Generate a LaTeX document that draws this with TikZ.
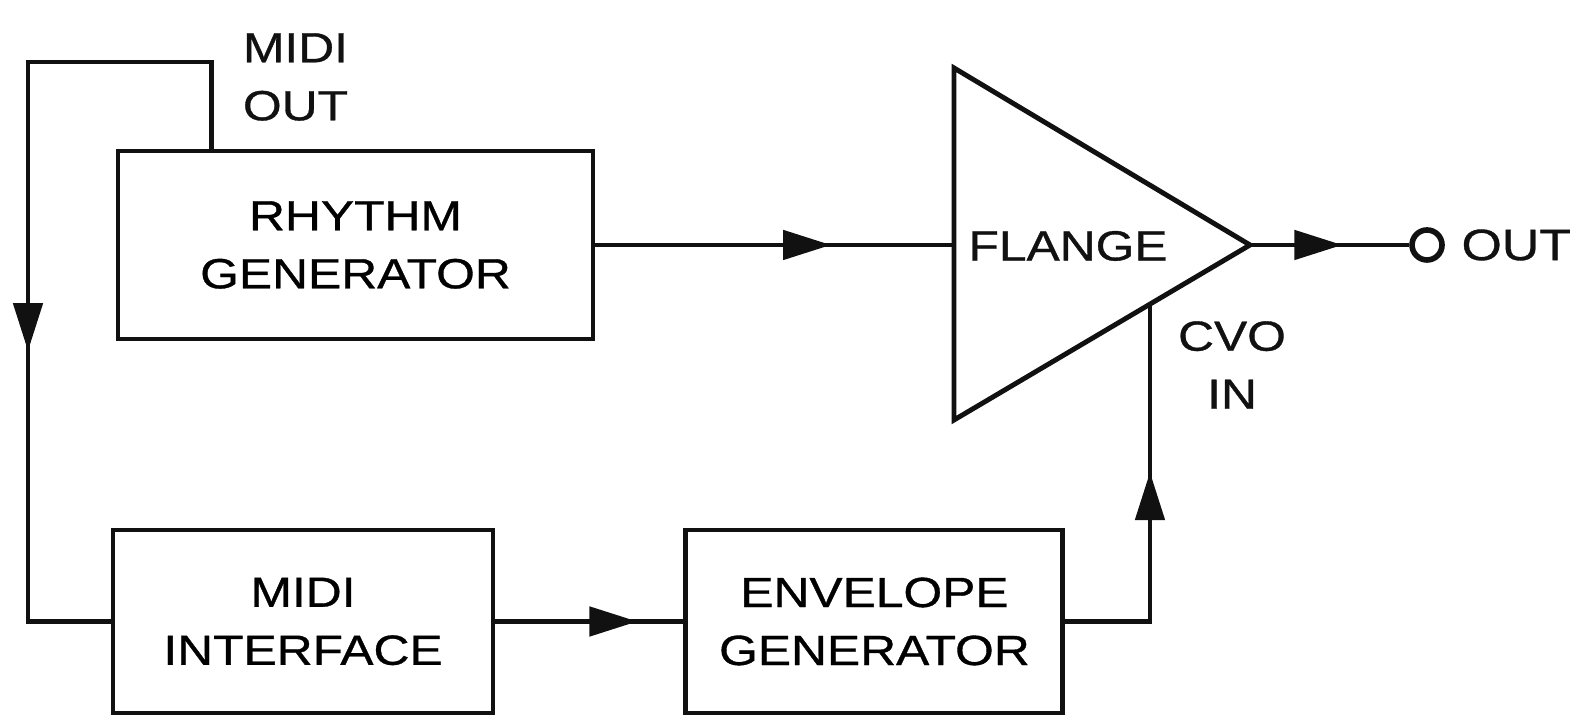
\documentclass[tikz,border=0pt]{standalone}
\usepackage{fontspec}
\setmainfont{Liberation Sans}[FakeStretch=1.18,FakeBold=0.8]
\usepackage{tikz}
\usetikzlibrary{arrows.meta,positioning,calc,decorations.markings}
\definecolor{FxInk}{HTML}{111111}
\newcommand{\fxfont}{\fontsize{12}{16.5}\selectfont}
\tikzset{
  fxbox/.style={draw=FxInk,line width=1.4pt,align=center,inner sep=0pt,font=\fxfont},
  fxlabel/.style={align=center,inner sep=0pt,font=\fxfont,text=FxInk},
  fxwire/.style={draw=FxInk,line width=1.4pt},
  fxmid/.style={postaction={decorate},decoration={markings,mark=at position #1 with {\arrow[FxInk]{Triangle[length=4.8mm,width=2.9mm]}}}}
}

\begin{document}
\begin{tikzpicture}
\useasboundingbox (0,0) rectangle (15.74,7.17);
% Signal blocks
\node[fxbox,minimum width=47.5mm,minimum height=18.8mm] (rhythm) at (3.555,4.72) {RHYTHM\\GENERATOR};
\node[fxbox,minimum width=38mm,minimum height=18.3mm] (midi) at (3.03,0.955) {MIDI\\INTERFACE};
\node[fxbox,minimum width=37.7mm,minimum height=18.3mm,right=18.8mm of midi] (env) {ENVELOPE\\GENERATOR};

% Flange stage (triangle) and output jack
\coordinate (fltop) at (9.54,6.49);
\coordinate (flbot) at (9.54,2.97);
\coordinate (flout) at (12.50,4.72);
\coordinate (flin) at (9.54,4.72);
\draw[fxwire,line join=miter] (fltop) -- (flout) -- (flbot) -- cycle;
\node[fxlabel] (flange) at (10.68,4.71) {FLANGE};
\node[draw=FxInk,line width=1.6pt,circle,minimum size=3.0mm,inner sep=0pt] (jack) at (14.27,4.72) {};
\node[fxlabel,anchor=west,font=\fontsize{12.5}{16}\selectfont] (outlbl) at ([xshift=1.6mm]jack.east) {OUT};

% Port labels
\node[fxlabel] (midiout) at (2.955,6.40) {MIDI\\OUT};
\node[fxlabel] (cvoin) at (12.32,3.52) {CVO\\IN};

% Connectors
\coordinate (midisrc) at ($(rhythm.north west)!0.2!(rhythm.north east)$);
\coordinate (loopcorner) at (0.28,6.55);
\draw[fxwire,fxmid=0.613] (midisrc) |- (loopcorner) |- (midi.west);
\draw[fxwire,fxmid=0.657] (rhythm.east) -- (flin);
\draw[fxwire,fxmid=0.58] (flout) -- (jack.west);
\draw[fxwire,fxmid=0.755] (midi.east) -- (env.west);
\coordinate (cvo) at ($(flbot)!0.662!(flout)$);
\draw[fxwire,fxmid=0.582] (env.east) -| (cvo);
\end{tikzpicture}
\end{document}
